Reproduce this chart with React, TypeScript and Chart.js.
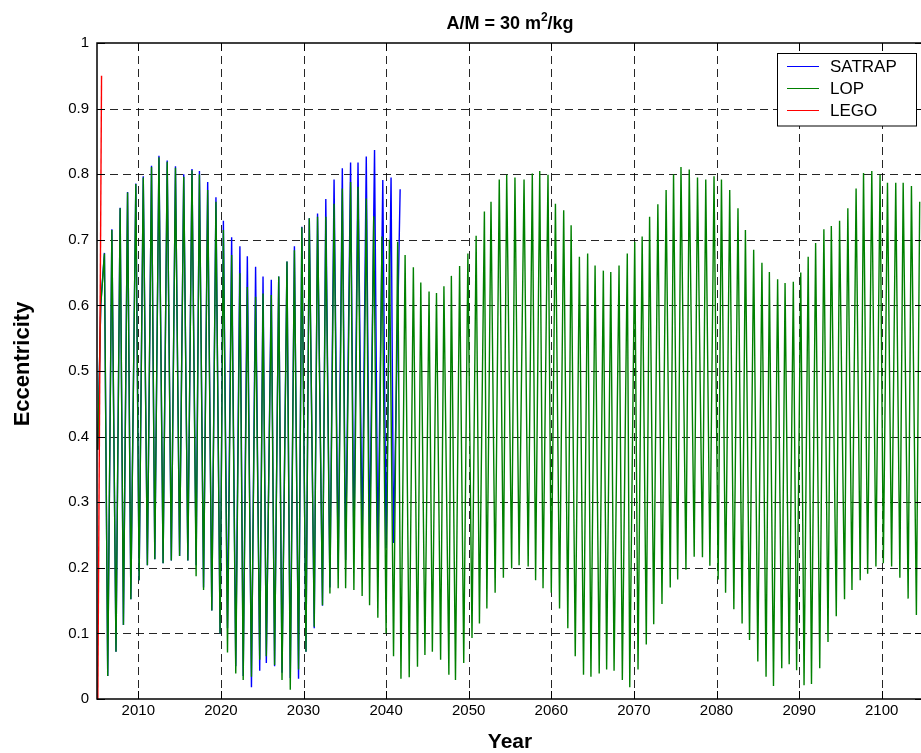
import React, { useEffect, useRef } from "react";
import { Chart, registerables } from "chart.js";

Chart.register(...registerables);

const FONT = '"Liberation Sans", Arial, Helvetica, sans-serif';

// Axis ticks
const xTicks = [2010, 2020, 2030, 2040, 2050, 2060, 2070, 2080, 2090, 2100];
const yTicks = [0, 0.1, 0.2, 0.3, 0.4, 0.5, 0.6, 0.7, 0.8, 0.9, 1];

// LOP: start of the run, then yearly maxima / minima of eccentricity
const lopStartYears = [2005.1, 2005.45];
const lopStartEcc = [0.38, 0.6];

const lopPeakYears = [
  2005.9, 2006.8, 2007.8, 2008.7, 2009.7, 2010.6, 2011.6, 2012.5, 2013.5, 2014.5,
  2015.5, 2016.5, 2017.4, 2018.4, 2019.4, 2020.3, 2021.3, 2022.3, 2023.2, 2024.2,
  2025.1, 2026.1, 2027.0, 2028.0, 2028.9, 2029.8, 2030.7, 2031.7, 2032.7, 2033.7,
  2034.7, 2035.7, 2036.6, 2037.6, 2038.5, 2039.5, 2040.4, 2041.4, 2042.3, 2043.3,
  2044.2, 2045.2, 2046.1, 2047.0, 2047.9, 2048.9, 2049.9, 2050.9, 2051.9, 2052.7,
  2053.7, 2054.6, 2055.6, 2056.7, 2057.7, 2058.6, 2059.6, 2060.5, 2061.5, 2062.4,
  2063.4, 2064.4, 2065.3, 2066.3, 2067.2, 2068.2, 2069.2, 2070.1, 2071.0, 2071.9,
  2072.9, 2073.9, 2074.8, 2075.7, 2076.7, 2077.7, 2078.7, 2079.7, 2080.6, 2081.6,
  2082.6, 2083.5, 2084.5, 2085.5, 2086.4, 2087.4, 2088.3, 2089.3, 2090.2, 2091.1,
  2092.0, 2093.0, 2093.9, 2094.9, 2095.9, 2096.9, 2097.8, 2098.8, 2099.8, 2100.7,
  2101.7, 2102.6, 2103.6, 2104.6,
];
const lopPeakEcc = [
  0.679, 0.715, 0.748, 0.772, 0.785, 0.795, 0.811, 0.826, 0.819, 0.81,
  0.796, 0.806, 0.8, 0.776, 0.758, 0.715, 0.677, 0.649, 0.628, 0.613,
  0.618, 0.616, 0.644, 0.667, 0.684, 0.719, 0.733, 0.735, 0.735, 0.755,
  0.778, 0.788, 0.781, 0.763, 0.736, 0.705, 0.7, 0.697, 0.677, 0.658,
  0.635, 0.621, 0.619, 0.629, 0.645, 0.66, 0.679, 0.706, 0.743, 0.758,
  0.792, 0.799, 0.795, 0.792, 0.801, 0.805, 0.799, 0.755, 0.745, 0.722,
  0.674, 0.679, 0.661, 0.653, 0.651, 0.661, 0.679, 0.697, 0.705, 0.735,
  0.754, 0.776, 0.8, 0.811, 0.807, 0.795, 0.792, 0.797, 0.792, 0.776,
  0.748, 0.715, 0.685, 0.665, 0.651, 0.64, 0.634, 0.636, 0.65, 0.674,
  0.695, 0.716, 0.721, 0.729, 0.748, 0.778, 0.802, 0.805, 0.799, 0.787,
  0.787, 0.787, 0.782, 0.758,
];

const lopTroughYears = [
  2006.3, 2007.3, 2008.2, 2009.1, 2010.1, 2011.1, 2012.0, 2013.0, 2014.0, 2015.0,
  2016.0, 2017.0, 2017.9, 2018.9, 2019.9, 2020.8, 2021.8, 2022.7, 2023.7, 2024.7,
  2025.5, 2026.5, 2027.4, 2028.4, 2029.4, 2030.3, 2031.3, 2032.3, 2033.2, 2034.2,
  2035.1, 2036.1, 2037.1, 2038.0, 2039.0, 2040.0, 2040.9, 2041.8, 2042.8, 2043.8,
  2044.7, 2045.6, 2046.6, 2047.6, 2048.4, 2049.4, 2050.4, 2051.3, 2052.2, 2053.2,
  2054.2, 2055.2, 2056.1, 2057.2, 2058.1, 2059.0, 2060.0, 2061.0, 2062.0, 2062.9,
  2063.9, 2064.8, 2065.8, 2066.7, 2067.6, 2068.6, 2069.5, 2070.5, 2071.5, 2072.4,
  2073.4, 2074.4, 2075.3, 2076.3, 2077.3, 2078.3, 2079.2, 2080.2, 2081.1, 2082.1,
  2083.1, 2084.0, 2085.0, 2086.0, 2086.9, 2087.9, 2088.8, 2089.7, 2090.6, 2091.5,
  2092.5, 2093.5, 2094.5, 2095.5, 2096.4, 2097.4, 2098.3, 2099.3, 2100.2, 2101.2,
  2102.2, 2103.2, 2104.2,
];
const lopTroughEcc = [
  0.035, 0.072, 0.113, 0.152, 0.181, 0.204, 0.213, 0.207, 0.211, 0.218,
  0.211, 0.187, 0.166, 0.135, 0.1, 0.071, 0.039, 0.029, 0.034, 0.06,
  0.065, 0.052, 0.029, 0.014, 0.045, 0.072, 0.11, 0.143, 0.161, 0.169,
  0.169, 0.166, 0.157, 0.143, 0.124, 0.1, 0.065, 0.031, 0.033, 0.049,
  0.067, 0.072, 0.06, 0.037, 0.029, 0.055, 0.093, 0.115, 0.138, 0.162,
  0.185, 0.199, 0.204, 0.202, 0.181, 0.169, 0.162, 0.138, 0.108, 0.065,
  0.037, 0.034, 0.039, 0.045, 0.043, 0.029, 0.018, 0.045, 0.083, 0.114,
  0.145, 0.17, 0.182, 0.197, 0.217, 0.216, 0.203, 0.182, 0.162, 0.137,
  0.115, 0.09, 0.057, 0.034, 0.02, 0.047, 0.053, 0.044, 0.021, 0.023,
  0.047, 0.087, 0.126, 0.152, 0.166, 0.181, 0.191, 0.202, 0.207, 0.202,
  0.185, 0.153, 0.128,
];

// SATRAP: run ends in late 2041
const satrapStartYears = [2005.1, 2005.45];
const satrapStartEcc = [0.38, 0.6];

const satrapPeakYears = [
  2005.9, 2006.8, 2007.8, 2008.7, 2009.7, 2010.6, 2011.6, 2012.5, 2013.5, 2014.5,
  2015.5, 2016.5, 2017.4, 2018.4, 2019.4, 2020.3, 2021.3, 2022.3, 2023.2, 2024.2,
  2025.1, 2026.1, 2027.0, 2028.0, 2028.9, 2029.8, 2030.7, 2031.7, 2032.7, 2033.7,
  2034.7, 2035.7, 2036.6, 2037.6, 2038.6, 2039.6, 2040.6, 2041.7,
];
const satrapPeakEcc = [
  0.68, 0.716, 0.749, 0.773, 0.786, 0.797, 0.813, 0.828, 0.821, 0.812,
  0.8, 0.808, 0.805, 0.788, 0.765, 0.729, 0.704, 0.69, 0.675, 0.659,
  0.644, 0.639, 0.644, 0.667, 0.69, 0.72, 0.733, 0.74, 0.762, 0.792,
  0.809, 0.818, 0.818, 0.827, 0.837, 0.791, 0.795, 0.777,
];
const satrapTroughYears = [
  2006.3, 2007.3, 2008.2, 2009.1, 2010.1, 2011.1, 2012.0, 2013.0, 2014.0, 2015.0,
  2016.0, 2017.0, 2017.9, 2018.9, 2019.9, 2020.8, 2021.8, 2022.7, 2023.7, 2024.7,
  2025.5, 2026.5, 2027.4, 2028.4, 2029.4, 2030.3, 2031.3, 2032.3, 2033.2, 2034.2,
  2035.1, 2036.1, 2037.1, 2038.0, 2039.0, 2040.0, 2040.9,
];
const satrapTroughEcc = [
  0.035, 0.072, 0.113, 0.152, 0.181, 0.204, 0.213, 0.207, 0.211, 0.218,
  0.211, 0.204, 0.17, 0.135, 0.1, 0.108, 0.05, 0.035, 0.018, 0.043,
  0.055, 0.05, 0.04, 0.032, 0.031, 0.072, 0.108, 0.142, 0.17, 0.2,
  0.212, 0.225, 0.238, 0.23, 0.218, 0.23, 0.238,
];

// LEGO: short run at the very start
const legoYears = [2005.1, 2005.55];
const legoEcc = [0.0, 0.95];

const seriesNames = ["SATRAP", "LOP", "LEGO"];
const seriesColors = ["#0000ff", "#008000", "#ff0000"];

type Pt = { x: number; y: number };

function toPoints(...parts: [number[], number[]][]): Pt[] {
  const pts: Pt[] = [];
  for (const [xs, ys] of parts) {
    xs.forEach((x, i) => pts.push({ x, y: ys[i] }));
  }
  return pts.sort((a, b) => a.x - b.x);
}

const frameAndLabels = {
  id: "frameAndLabels",
  beforeDatasetsDraw(chart: any) {
    const { ctx, chartArea: a, scales } = chart;
    const x = scales.x;
    const y = scales.y;
    ctx.save();
    ctx.strokeStyle = "rgba(0,0,0,0.85)";
    ctx.lineWidth = 1;
    ctx.setLineDash([8, 5]);
    for (const v of xTicks) {
      const px = Math.round(x.getPixelForValue(v)) + 0.5;
      ctx.beginPath();
      ctx.moveTo(px, a.top);
      ctx.lineTo(px, a.bottom);
      ctx.stroke();
    }
    for (const v of yTicks) {
      if (v === 0 || v === 1) continue;
      const py = Math.round(y.getPixelForValue(v)) + 0.5;
      ctx.beginPath();
      ctx.moveTo(a.left, py);
      ctx.lineTo(a.right, py);
      ctx.stroke();
    }
    ctx.restore();
  },
  afterDraw(chart: any) {
    const { ctx, chartArea: a, scales } = chart;
    const x = scales.x;
    const y = scales.y;
    ctx.save();
    ctx.setLineDash([]);
    ctx.strokeStyle = "#000";

    // axes box
    ctx.lineWidth = 1.5;
    ctx.strokeRect(a.left, a.top, a.right - a.left, a.bottom - a.top);

    // inward tick marks
    ctx.lineWidth = 1;
    const tl = 8;
    ctx.beginPath();
    for (const v of xTicks) {
      const px = Math.round(x.getPixelForValue(v)) + 0.5;
      ctx.moveTo(px, a.bottom);
      ctx.lineTo(px, a.bottom - tl);
      ctx.moveTo(px, a.top);
      ctx.lineTo(px, a.top + tl);
    }
    for (const v of yTicks) {
      const py = Math.round(y.getPixelForValue(v)) + 0.5;
      ctx.moveTo(a.left, py);
      ctx.lineTo(a.left + tl, py);
      ctx.moveTo(a.right, py);
      ctx.lineTo(a.right - tl, py);
    }
    ctx.stroke();

    // title with superscript
    ctx.fillStyle = "#000";
    ctx.textBaseline = "alphabetic";
    ctx.textAlign = "left";
    const cx = (a.left + a.right) / 2;
    const t1 = "A/M = 30 m";
    const t2 = "2";
    const t3 = "/kg";
    ctx.font = `bold 18px ${FONT}`;
    const w1 = ctx.measureText(t1).width;
    const w3 = ctx.measureText(t3).width;
    ctx.font = `bold 12px ${FONT}`;
    const w2 = ctx.measureText(t2).width;
    let tx = cx - (w1 + w2 + w3) / 2;
    const tBase = 29;
    ctx.font = `bold 18px ${FONT}`;
    ctx.fillText(t1, tx, tBase);
    tx += w1;
    ctx.font = `bold 12px ${FONT}`;
    ctx.fillText(t2, tx, tBase - 8);
    tx += w2;
    ctx.font = `bold 18px ${FONT}`;
    ctx.fillText(t3, tx, tBase);

    // axis titles
    ctx.font = `bold 21px ${FONT}`;
    ctx.textAlign = "center";
    ctx.fillText("Year", cx, 748);
    ctx.save();
    ctx.translate(29, 364);
    ctx.rotate(-Math.PI / 2);
    ctx.font = `bold 22px ${FONT}`;
    ctx.fillText("Eccentricity", 0, 0);
    ctx.restore();

    // legend box
    const lx = 777.5;
    const ly = 53.5;
    const lw = 139;
    const lh = 72.5;
    ctx.fillStyle = "#fff";
    ctx.fillRect(lx, ly, lw, lh);
    ctx.strokeStyle = "#000";
    ctx.lineWidth = 1;
    ctx.strokeRect(lx, ly, lw, lh);
    const rows = [66, 88, 110];
    ctx.font = `17px ${FONT}`;
    ctx.textAlign = "left";
    ctx.textBaseline = "middle";
    seriesNames.forEach((name, i) => {
      ctx.strokeStyle = seriesColors[i];
      ctx.beginPath();
      ctx.moveTo(787, rows[i] + 0.5);
      ctx.lineTo(819, rows[i] + 0.5);
      ctx.stroke();
      ctx.fillStyle = "#000";
      ctx.fillText(name, 830, rows[i] + 1);
    });
    ctx.restore();
  },
};

export default function App() {
  const canvasRef = useRef<HTMLCanvasElement | null>(null);

  useEffect(() => {
    const canvas = canvasRef.current;
    if (!canvas) return;

    const satrap = toPoints(
      [satrapStartYears, satrapStartEcc],
      [satrapPeakYears, satrapPeakEcc],
      [satrapTroughYears, satrapTroughEcc]
    );
    const lop = toPoints(
      [lopStartYears, lopStartEcc],
      [lopPeakYears, lopPeakEcc],
      [lopTroughYears, lopTroughEcc]
    );
    const lego = toPoints([legoYears, legoEcc]);

    const chart = new Chart(canvas, {
      type: "line",
      data: {
        datasets: [
          {
            label: seriesNames[0],
            data: satrap,
            borderColor: seriesColors[0],
            borderWidth: 1.4,
            pointRadius: 0,
            tension: 0,
            order: 3,
          },
          {
            label: seriesNames[1],
            data: lop,
            borderColor: seriesColors[1],
            borderWidth: 1.4,
            pointRadius: 0,
            tension: 0,
            order: 2,
          },
          {
            label: seriesNames[2],
            data: lego,
            borderColor: seriesColors[2],
            borderWidth: 1.4,
            pointRadius: 0,
            tension: 0,
            order: 1,
          },
        ],
      },
      options: {
        animation: false,
        responsive: false,
        devicePixelRatio: 1,
        events: [],
        layout: { padding: { top: 43, right: 7, left: 0, bottom: 0 } },
        plugins: {
          legend: { display: false },
          tooltip: { enabled: false },
          title: { display: false },
        },
        scales: {
          x: {
            type: "linear",
            min: 2005,
            max: 2105,
            grid: { display: false, drawTicks: false },
            border: { display: false },
            afterBuildTicks: (scale: any) => {
              scale.ticks = xTicks.map((v) => ({ value: v }));
            },
            afterFit: (scale: any) => {
              scale.height = 54;
            },
            ticks: {
              color: "#000",
              padding: 3,
              maxRotation: 0,
              autoSkip: false,
              font: { family: FONT, size: 15 },
              callback: (v: any) => String(v),
            },
          },
          y: {
            type: "linear",
            min: 0,
            max: 1,
            grid: { display: false, drawTicks: false },
            border: { display: false },
            afterBuildTicks: (scale: any) => {
              scale.ticks = yTicks.map((v) => ({ value: v }));
            },
            afterFit: (scale: any) => {
              scale.width = 97;
            },
            ticks: {
              color: "#000",
              padding: 8,
              autoSkip: false,
              font: { family: FONT, size: 15 },
              callback: (v: any) => String(Math.round(Number(v) * 10) / 10),
            },
          },
        },
      },
      plugins: [frameAndLabels],
    });

    return () => chart.destroy();
  }, []);

  return (
    <div
      style={{
        position: "fixed",
        left: 0,
        top: 0,
        width: 921,
        height: 753,
        overflow: "hidden",
        background: "#fff",
      }}
    >
      <canvas
        ref={canvasRef}
        width={930}
        height={753}
        style={{ display: "block", width: 930, height: 753 }}
      />
    </div>
  );
}
